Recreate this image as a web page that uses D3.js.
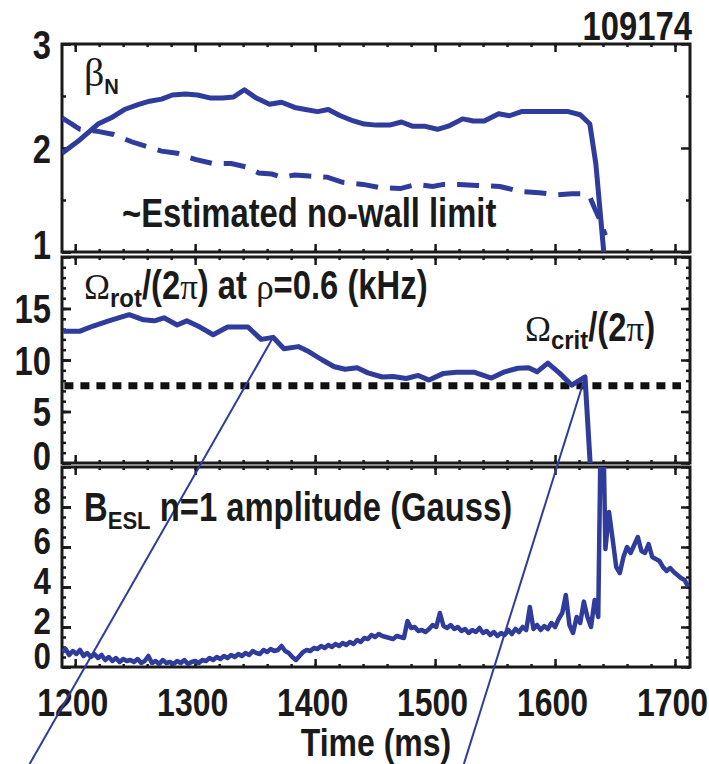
<!DOCTYPE html>
<html>
<head>
<meta charset="utf-8">
<script src="https://cdn.jsdelivr.net/npm/d3@7"></script>
<style>
  body { margin: 0; background: #fff; }
  svg text { font-family: "Liberation Sans", Arial, sans-serif; font-weight: bold; fill: #1a1a1a; }
  .sym { font-family: "Liberation Serif", "Times New Roman", serif; font-weight: normal; }
</style>
</head>
<body>
<div id="chart"></div>
<script>
// shot number and time axis
var shotLabel = "109174";
var timeTicks = [1200, 1300, 1400, 1500, 1600, 1700];

// beta_N (solid) and estimated no-wall limit (dashed)
var betaT = [1189, 1204, 1219, 1230, 1241, 1253, 1262, 1272, 1281, 1292, 1302, 1313, 1323, 1332, 1341, 1351, 1362, 1372, 1383, 1392, 1402, 1411, 1421, 1432, 1441, 1451, 1462, 1472, 1481, 1491, 1502, 1511, 1523, 1532, 1541, 1553, 1562, 1572, 1581, 1591, 1602, 1611, 1621, 1629, 1634, 1641];
var betaN = [1.95, 2.08, 2.23, 2.29, 2.37, 2.42, 2.45, 2.47, 2.51, 2.52, 2.51, 2.48, 2.48, 2.49, 2.56, 2.48, 2.42, 2.44, 2.39, 2.37, 2.35, 2.37, 2.31, 2.26, 2.23, 2.22, 2.22, 2.25, 2.21, 2.21, 2.18, 2.21, 2.28, 2.26, 2.26, 2.33, 2.31, 2.35, 2.35, 2.35, 2.35, 2.35, 2.32, 2.23, 1.85, 0.95];
var limT = [1189, 1204, 1219, 1232, 1247, 1258, 1272, 1285, 1300, 1315, 1330, 1342, 1353, 1364, 1372, 1383, 1395, 1410, 1423, 1440, 1454, 1471, 1484, 1498, 1507, 1520, 1535, 1554, 1572, 1587, 1602, 1614, 1625, 1629, 1633, 1637, 1642];
var limN = [2.29, 2.18, 2.16, 2.13, 2.06, 2.02, 1.97, 1.95, 1.89, 1.85, 1.85, 1.82, 1.76, 1.75, 1.72, 1.74, 1.73, 1.72, 1.67, 1.65, 1.62, 1.61, 1.65, 1.63, 1.65, 1.65, 1.64, 1.63, 1.58, 1.57, 1.55, 1.56, 1.56, 1.53, 1.42, 1.32, 1.16];

// toroidal rotation at rho=0.6 (kHz) and critical value
var omegaT = [1190, 1204, 1215, 1228, 1245, 1257, 1266, 1274, 1285, 1293, 1304, 1315, 1327, 1344, 1355, 1365, 1374, 1386, 1395, 1406, 1416, 1425, 1435, 1444, 1456, 1465, 1476, 1486, 1495, 1507, 1518, 1533, 1547, 1558, 1569, 1578, 1585, 1594, 1604, 1614, 1625, 1629.5];
var omegaV = [12.8, 12.8, 13.3, 13.8, 14.4, 13.9, 13.8, 14.1, 13.4, 13.8, 13.2, 12.45, 13.2, 13.2, 12.0, 12.2, 11.1, 11.3, 10.8, 10.0, 9.35, 9.1, 9.25, 8.75, 8.35, 8.4, 8.2, 8.5, 8.05, 8.7, 8.8, 8.8, 8.25, 8.85, 9.2, 9.25, 8.85, 9.7, 8.7, 7.55, 8.35, -0.5];
var omegaCrit = 7.5;

// B_ESL n=1 amplitude (Gauss), sampled every 3 ms from 1189 ms
var besStart = 1189, besStep = 3;
var besVal = [
  0.75, 0.9, 0.6, 0.8, 0.65, 0.85, 0.55, 0.7, 0.5, 0.65,
  0.45, 0.6, 0.35, 0.5, 0.3, 0.45, 0.25, 0.4, 0.3, 0.35,
  0.25, 0.4, 0.2, 0.3, 0.55, 0.2, 0.3, 0.15, 0.35, 0.2,
  0.25, 0.15, 0.3, 0.2, 0.35, 0.15, 0.25, 0.3, 0.2, 0.35,
  0.3, 0.45, 0.35, 0.5, 0.4, 0.55, 0.45, 0.6, 0.5, 0.65,
  0.55, 0.7, 0.6, 0.8, 0.7, 0.65, 0.85, 0.75, 0.9, 0.8,
  0.85, 1.05, 0.8, 0.7, 0.5, 0.35, 0.55, 0.75, 0.85, 0.8,
  0.95, 0.9, 1.05, 0.95, 1.1, 1.0, 1.15, 1.05, 1.2, 1.1,
  1.25, 1.15, 1.35, 1.25, 1.45, 1.4, 1.6, 1.5, 1.65, 1.55,
  1.5, 1.45, 1.4, 1.55, 1.5, 1.45, 2.3, 1.95, 2.0, 1.8,
  1.85, 1.75, 1.9, 2.1, 2.0, 2.7, 2.05, 1.95, 2.1, 1.9,
  2.0, 1.8, 1.9, 1.7, 1.85, 1.75, 1.95, 1.7, 1.8, 1.6,
  1.75, 1.55, 1.7, 1.6, 1.85, 1.65, 1.9, 1.75, 2.0, 1.85,
  3.0, 1.9, 2.1, 1.85, 2.05, 1.9, 2.2, 2.0, 2.4, 2.7,
  3.6, 2.1, 1.7, 2.5, 2.2, 3.27, 2.5, 2.0, 3.35, 2.5,
  16, 5.9, 7.75, 6.4, 5.0, 4.7, 5.5, 6.0, 5.7, 6.1,
  6.5, 5.8, 5.7, 6.15, 5.5, 5.4, 5.3, 5.0, 4.8, 4.95,
  4.75, 4.6, 4.45, 4.35, 4.0
];

// thin pointer lines: start on the rotation trace, end below the figure
var ptrStartT = [1365, 1625];
var ptrStartV = [12.2, 8.35];
var ptrEndT = [1162, 1524];
var ptrEndB = [-4.85, -4.85];

var blue = "#2f3c9b";
var W = 709, H = 764;
var sx = 0.82; // squeeze Liberation Sans into a condensed look

var svg = d3.select("#chart").append("svg")
  .attr("width", W)
  .attr("height", H);

var x = d3.scaleLinear().domain([1189, 1712.5]).range([62, 690]);

// three stacked panels
var yBeta = d3.scaleLinear().domain([1, 3]).range([252, 44]);
var yOmega = d3.scaleLinear().domain([0, 20]).range([463, 257]);
var yB = d3.scaleLinear().domain([0, 10]).range([667, 467]);

var panels = [
  {id: "p1", y: yBeta, major: [1, 2, 3], minor: [1.5, 2.5], lab: [1, 2, 3], fs: 40, dy: 0.35, dy0: 0.17},
  {id: "p2", y: yOmega, major: [0, 5, 10, 15, 20], minor: d3.range(0, 21, 1), lab: [0, 5, 10, 15], fs: 40, dy: 0.35, dy0: 0.17},
  {id: "p3", y: yB, major: [0, 2, 4, 6, 8, 10], minor: d3.range(0, 10.1, 0.5), lab: [0, 2, 4, 6, 8], fs: 36, dy: 0.17, dy0: 0.03}
];

var minorT = d3.range(1200, 1712, 20);

panels.forEach(function(p, i){
  var r = p.y.range();
  var g = svg.append("g").attr("class", "panel");

  g.append("clipPath").attr("id", "clip-" + p.id)
    .append("rect")
    .attr("x", x.range()[0]).attr("y", r[1])
    .attr("width", x.range()[1] - x.range()[0])
    .attr("height", r[0] - r[1]);

  // x ticks top and bottom
  var bx = g.append("g").attr("transform", "translate(0," + r[0] + ")")
    .call(d3.axisBottom(x).tickValues(timeTicks).tickSize(-8).tickPadding(21)
      .tickFormat(i == 2 ? d3.format("d") : ""));
  bx.selectAll("text").attr("font-size", 39)
    .attr("x", -3 / sx)
    .attr("transform", "scale(" + sx + ",1)");
  g.append("g").attr("transform", "translate(0," + r[0] + ")")
    .call(d3.axisBottom(x).tickValues(minorT).tickSize(-3).tickFormat(""));
  g.append("g").attr("transform", "translate(0," + r[1] + ")")
    .call(d3.axisTop(x).tickValues(timeTicks).tickSize(-8).tickFormat(""));
  g.append("g").attr("transform", "translate(0," + r[1] + ")")
    .call(d3.axisTop(x).tickValues(minorT).tickSize(-3).tickFormat(""));

  // y ticks left and right
  var ly = g.append("g").attr("transform", "translate(" + x.range()[0] + ",0)")
    .call(d3.axisLeft(p.y).tickValues(p.lab).tickSize(-9).tickPadding(11).tickFormat(d3.format("d")));
  ly.selectAll("text").attr("font-size", p.fs)
    .attr("x", -11 / sx)
    .attr("transform", "scale(" + (i == 2 ? 0.87 : sx) + ",1)")
    .attr("dy", function(d){ return (d == p.y.domain()[0] ? p.dy0 : p.dy) + "em"; });
  if (i == 2) ly.selectAll("text").attr("x", -11 / 0.87);
  g.append("g").attr("transform", "translate(" + x.range()[0] + ",0)")
    .call(d3.axisLeft(p.y).tickValues(p.major).tickSize(-9).tickFormat(""));
  g.append("g").attr("transform", "translate(" + x.range()[0] + ",0)")
    .call(d3.axisLeft(p.y).tickValues(p.minor).tickSize(-4).tickFormat(""));
  g.append("g").attr("transform", "translate(" + x.range()[1] + ",0)")
    .call(d3.axisRight(p.y).tickValues(p.major).tickSize(-9).tickFormat(""));
  g.append("g").attr("transform", "translate(" + x.range()[1] + ",0)")
    .call(d3.axisRight(p.y).tickValues(p.minor).tickSize(-4).tickFormat(""));

  g.selectAll(".domain").remove();
  g.selectAll(".tick line").attr("stroke", "#1a1a1a").attr("stroke-width", 2.5);

  // frame
  g.append("rect")
    .attr("x", x.range()[0]).attr("y", r[1])
    .attr("width", x.range()[1] - x.range()[0])
    .attr("height", r[0] - r[1])
    .attr("fill", "none")
    .attr("stroke", "#1a1a1a")
    .attr("stroke-width", 3);
});

// beta_N panel
var line = d3.line();
var p1 = svg.append("g").attr("clip-path", "url(#clip-p1)");
p1.append("path")
  .attr("d", line(limT.map(function(t, i){ return [x(t), yBeta(limN[i])]; })))
  .attr("fill", "none").attr("stroke", blue).attr("stroke-width", 5)
  .attr("stroke-dasharray", "22,12");
p1.append("path")
  .attr("d", line(betaT.map(function(t, i){ return [x(t), yBeta(betaN[i])]; })))
  .attr("fill", "none").attr("stroke", blue).attr("stroke-width", 5)
  .attr("stroke-linejoin", "round");

// rotation panel
var p2 = svg.append("g").attr("clip-path", "url(#clip-p2)");
p2.append("line")
  .attr("x1", x(1191)).attr("x2", x(1705))
  .attr("y1", yOmega(omegaCrit)).attr("y2", yOmega(omegaCrit))
  .attr("stroke", "#111").attr("stroke-width", 7)
  .attr("stroke-dasharray", "9,7");
p2.append("path")
  .attr("d", line(omegaT.map(function(t, i){ return [x(t), yOmega(omegaV[i])]; })))
  .attr("fill", "none").attr("stroke", blue).attr("stroke-width", 5)
  .attr("stroke-linejoin", "round");

// magnetic amplitude panel
var p3 = svg.append("g").attr("clip-path", "url(#clip-p3)");
p3.append("path")
  .attr("d", line(besVal.map(function(v, i){ return [x(besStart + i * besStep), yB(v)]; })))
  .attr("fill", "none").attr("stroke", blue).attr("stroke-width", 4.5)
  .attr("stroke-linejoin", "round");

// pointer lines
ptrStartT.forEach(function(t, i){
  svg.append("line")
    .attr("x1", x(t)).attr("y1", yOmega(ptrStartV[i]))
    .attr("x2", x(ptrEndT[i])).attr("y2", yB(ptrEndB[i]))
    .attr("stroke", blue).attr("stroke-width", 2);
});

// rich labels: each part is its own text, placed one after another
// kind "sym" = serif greek, "sub" = subscript, "" = plain
function rich(px, py, parts, symSize, subSize){
  var cx = px;
  parts.forEach(function(p){
    var size = 40, s = sx, dy = 0;
    if (p[1] == "sym") { size = symSize || 35; s = 1; }
    if (p[1] == "sub") { size = subSize || 26; s = 0.92; dy = 8; }
    var t = svg.append("text")
      .attr("transform", "translate(" + cx + "," + (py + dy) + ") scale(" + s + ",1)")
      .attr("font-size", size)
      .style("white-space", "pre")
      .text(p[0]);
    if (p[1] == "sym") t.attr("class", "sym");
    cx += t.node().getComputedTextLength() * s;
  });
}

rich(84, 86, [["\u03b2", "sym"], ["N", "sub"]], 40, 22);
rich(84, 299, [["\u03a9", "sym"], ["rot", "sub"], ["/(2", ""], ["\u03c0", "sym"], [") at ", ""], ["\u03c1", "sym"], ["=0.6 (kHz)", ""]]);
rich(525, 341, [["\u03a9", "sym"], ["crit", "sub"], ["/(2", ""], ["\u03c0", "sym"], [")", ""]]);
rich(84, 521, [["B", ""], ["ESL", "sub"], [" n=1 amplitude (Gauss)", ""]], 35, 24);
rich(122, 227, [["~Estimated no-wall limit", ""]]);

svg.append("text")
  .attr("transform", "translate(692,40) scale(" + sx + ",1)")
  .attr("text-anchor", "end").attr("font-size", 40)
  .text(shotLabel);

svg.append("text")
  .attr("transform", "translate(376,756) scale(" + sx + ",1)")
  .attr("text-anchor", "middle").attr("font-size", 39)
  .text("Time (ms)");
</script>
</body>
</html>
